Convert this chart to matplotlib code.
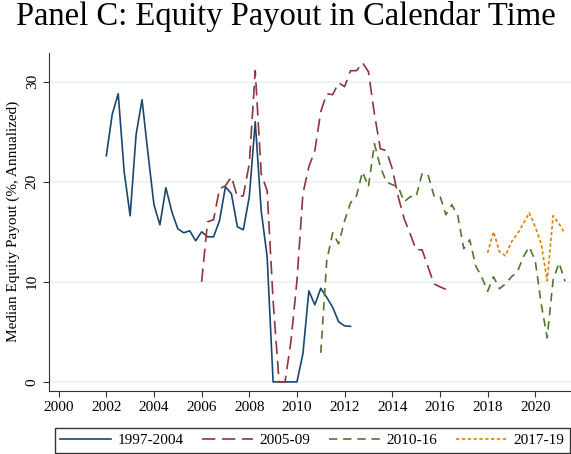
import numpy as np
import matplotlib
matplotlib.use("Agg")
import matplotlib.pyplot as plt

# quarterly medians
q_9704_start = 2002.0
payout_9704 = [22.6, 26.75, 28.8, 21.0, 16.6, 24.7, 28.2, 22.8, 17.7, 15.7,
               19.4, 17.0, 15.3, 14.9, 15.1, 14.1, 15.0, 14.5, 14.5, 16.1,
               19.5, 18.8, 15.5, 15.2, 18.5, 26.0, 17.1, 12.5, 0, 0,
               0, 0, 0, 2.8, 9.1, 7.7, 9.35, 8.45, 7.45, 6.0,
               5.6, 5.55]

q_0509_start = 2006.0
payout_0509 = [10.0, 16.0, 16.2, 19.3, 19.6, 20.5, 18.5, 18.6, 21.8, 31.1,
               20.8, 19.1, 8.1, 0, 0, 4.1, 10.1, 18.8, 21.5, 23.1,
               27.0, 28.8, 28.7, 29.9, 29.5, 31.1, 31.1, 31.9, 31.0, 26.8,
               23.3, 23.1, 21.3, 18.5, 16.3, 14.8, 13.2, 13.2, 11.5, 9.8,
               9.5, 9.25]

q_1016_start = 2011.0
payout_1016 = [2.9, 12.1, 14.9, 13.8, 16.1, 17.9, 18.6, 21.0, 19.5, 23.8,
               21.5, 20.0, 19.7, 19.5, 18.0, 18.5, 18.5, 20.8, 20.7, 18.6,
               18.6, 16.7, 17.7, 16.6, 13.3, 14.2, 11.6, 10.5, 9.05, 10.5,
               9.3, 9.8, 10.5, 11.0, 12.5, 13.5, 12.1, 7.8, 4.4, 10.2,
               11.9, 10.05]

q_1719_start = 2018.0
payout_1719 = [12.9, 15.0, 13.0, 12.6, 14.0, 14.8, 15.8, 16.9, 15.5, 13.8,
               10.1, 16.6, 15.8, 14.8]

labels = ["1997-2004", "2005-09", "2010-16", "2017-19"]
colors = ["#1a476f", "#90353b", "#55752f", "#e37e00"]
dashes = [None, (8, 4), (5, 3.5), (2, 1.5)]

plt.rcParams["font.family"] = "Liberation Serif"

fig = plt.figure(figsize=(5.71, 4.54), dpi=100)
ax = fig.add_axes([0.086, 0.139, 0.914, 0.745])

series = [(q_9704_start, payout_9704), (q_0509_start, payout_0509),
          (q_1016_start, payout_1016), (q_1719_start, payout_1719)]
for (start, vals), lab, col, d in zip(series, labels, colors, dashes):
    x = start + 0.25 * np.arange(len(vals))
    line, = ax.plot(x, vals, color=col, lw=1.2, label=lab)
    if d is not None:
        line.set_dashes(d)

ax.set_xlim(1999.6, 2021.5)
ax.set_ylim(-0.9, 32.9)
ax.set_xticks(range(2000, 2021, 2))
ax.set_yticks([0, 10, 20, 30])
ax.set_yticklabels(["0", "10", "20", "30"], rotation=90, va="center")
ax.tick_params(axis="both", labelsize=11, direction="out", length=4, color="#333333")
ax.grid(axis="y", color="#eaf2f3", lw=1.2)
ax.set_axisbelow(True)
for s in ["top", "right"]:
    ax.spines[s].set_visible(False)
for s in ["left", "bottom"]:
    ax.spines[s].set_color("#333333")

ax.set_ylabel("Median Equity Payout (%, Annualized)", fontsize=11, labelpad=4)
fig.suptitle("Panel C: Equity Payout in Calendar Time", fontsize=23.5, y=0.998, va="top")

leg = fig.legend(loc="lower left", bbox_to_anchor=(0.096, 0.003, 0.902, 0.06),
                 mode="expand", ncol=4, fontsize=11, frameon=True, fancybox=False,
                 edgecolor="black", handlelength=3.3, handletextpad=0.45,
                 borderaxespad=0, borderpad=0.35)
leg.get_frame().set_linewidth(1.0)

fig.savefig("out.png", dpi=100)
